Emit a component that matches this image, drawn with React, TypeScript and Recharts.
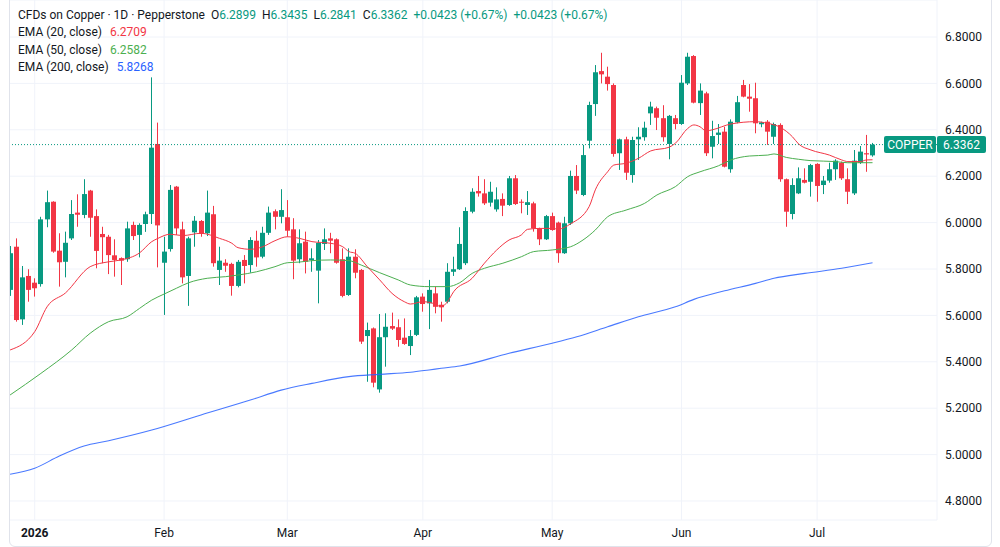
import { ComposedChart, Bar, Line, XAxis, YAxis, CartesianGrid, ReferenceLine } from 'recharts';

const UP = '#089981';
const DOWN = '#F23645';
const EMA20_COLOR = '#F23645';
const EMA50_COLOR = '#4CAF50';
const EMA200_COLOR = '#2962FF';
const TEXT = '#131722';
const GRID = '#f0f3fa';
const FONT = 'Roboto, "Noto Sans", "DejaVu Sans", sans-serif';

const SYMBOL = 'COPPER';

// trading days, one per candle
const dates = [
  '2025-12-26', '2025-12-29', '2025-12-30', '2025-12-31',
  '2026-01-02', '2026-01-05', '2026-01-06', '2026-01-07', '2026-01-08', '2026-01-09',
  '2026-01-12', '2026-01-13', '2026-01-14', '2026-01-15', '2026-01-16',
  '2026-01-19', '2026-01-20', '2026-01-21', '2026-01-22', '2026-01-23',
  '2026-01-26', '2026-01-27', '2026-01-28', '2026-01-29', '2026-01-30',
  '2026-02-02', '2026-02-03', '2026-02-04', '2026-02-05', '2026-02-06',
  '2026-02-09', '2026-02-10', '2026-02-11', '2026-02-12', '2026-02-13',
  '2026-02-16', '2026-02-17', '2026-02-18', '2026-02-19', '2026-02-20',
  '2026-02-23', '2026-02-24', '2026-02-25', '2026-02-26', '2026-02-27',
  '2026-03-02', '2026-03-03', '2026-03-04', '2026-03-05', '2026-03-06',
  '2026-03-09', '2026-03-10', '2026-03-11', '2026-03-12', '2026-03-13',
  '2026-03-16', '2026-03-17', '2026-03-18', '2026-03-19', '2026-03-20',
  '2026-03-23', '2026-03-24', '2026-03-25', '2026-03-26', '2026-03-27',
  '2026-03-30', '2026-03-31',
  '2026-04-01', '2026-04-02',
  '2026-04-06', '2026-04-07', '2026-04-08', '2026-04-09', '2026-04-10',
  '2026-04-13', '2026-04-14', '2026-04-15', '2026-04-16', '2026-04-17',
  '2026-04-20', '2026-04-21', '2026-04-22', '2026-04-23', '2026-04-24',
  '2026-04-27', '2026-04-28', '2026-04-29', '2026-04-30',
  '2026-05-01',
  '2026-05-04', '2026-05-05', '2026-05-06', '2026-05-07', '2026-05-08',
  '2026-05-11', '2026-05-12', '2026-05-13', '2026-05-14', '2026-05-15',
  '2026-05-18', '2026-05-19', '2026-05-20', '2026-05-21', '2026-05-22',
  '2026-05-25', '2026-05-26', '2026-05-27', '2026-05-28', '2026-05-29',
  '2026-06-01', '2026-06-02', '2026-06-03', '2026-06-04', '2026-06-05',
  '2026-06-08', '2026-06-09', '2026-06-10', '2026-06-11', '2026-06-12',
  '2026-06-15', '2026-06-16', '2026-06-17', '2026-06-18', '2026-06-19',
  '2026-06-22', '2026-06-23', '2026-06-24', '2026-06-25', '2026-06-26',
  '2026-06-29', '2026-06-30',
  '2026-07-01', '2026-07-02',
  '2026-07-06', '2026-07-07', '2026-07-08', '2026-07-09', '2026-07-10',
  '2026-07-13', '2026-07-14', '2026-07-15',
];

// [open, high, low, close]
const ohlc: [number, number, number, number][] = [
  [5.710, 5.899, 5.684, 5.868], [5.896, 5.932, 5.573, 5.580], [5.583, 5.813, 5.559, 5.764], [5.770, 5.799, 5.659, 5.710],
  [5.741, 5.760, 5.681, 5.717], [5.735, 6.025, 5.724, 6.014], [6.014, 6.138, 5.980, 6.088], [6.090, 6.092, 5.870, 5.875],
  [5.879, 5.954, 5.724, 5.829], [5.831, 5.961, 5.764, 5.913], [5.932, 6.097, 5.925, 6.037], [6.043, 6.122, 5.982, 6.034],
  [6.033, 6.187, 6.019, 6.123], [6.138, 6.141, 5.939, 6.021], [6.028, 6.057, 5.803, 5.878], [5.951, 5.982, 5.825, 5.937],
  [5.939, 5.947, 5.778, 5.860], [5.859, 5.928, 5.767, 5.839], [5.847, 5.850, 5.731, 5.836], [5.842, 6.004, 5.831, 5.975],
  [5.990, 6.004, 5.925, 5.942], [5.947, 5.997, 5.850, 5.990], [5.994, 6.047, 5.960, 6.036], [6.037, 6.626, 5.994, 6.323],
  [6.339, 6.431, 5.807, 5.988], [5.827, 5.939, 5.602, 5.875], [5.886, 6.162, 5.875, 6.141], [6.155, 6.158, 5.947, 5.975],
  [5.971, 6.004, 5.738, 5.764], [5.770, 5.939, 5.641, 5.932], [5.958, 6.028, 5.896, 6.008], [6.007, 6.011, 5.939, 5.951],
  [5.954, 6.138, 5.942, 6.043], [6.036, 6.072, 5.810, 5.825], [5.796, 5.896, 5.731, 5.836], [5.827, 5.842, 5.788, 5.814],
  [5.822, 5.827, 5.685, 5.727], [5.727, 5.839, 5.721, 5.831], [5.839, 5.860, 5.738, 5.813], [5.817, 5.937, 5.784, 5.925],
  [5.922, 5.965, 5.810, 5.850], [5.853, 5.982, 5.846, 5.956], [5.956, 6.069, 5.947, 6.043], [6.049, 6.057, 5.971, 6.025],
  [6.025, 6.144, 5.997, 6.054], [6.023, 6.097, 5.939, 5.965], [5.971, 6.019, 5.756, 5.836], [5.842, 5.971, 5.825, 5.911],
  [5.918, 5.961, 5.781, 5.831], [5.839, 5.889, 5.788, 5.846], [5.793, 5.925, 5.652, 5.913], [5.908, 5.975, 5.882, 5.928],
  [5.932, 5.956, 5.868, 5.922], [5.928, 5.932, 5.823, 5.827], [5.842, 5.889, 5.678, 5.684], [5.688, 5.889, 5.684, 5.853],
  [5.853, 5.885, 5.760, 5.784], [5.796, 5.800, 5.477, 5.487], [5.511, 5.569, 5.314, 5.537], [5.544, 5.548, 5.290, 5.310],
  [5.281, 5.606, 5.267, 5.506], [5.506, 5.609, 5.379, 5.551], [5.554, 5.612, 5.537, 5.543], [5.549, 5.583, 5.465, 5.494],
  [5.504, 5.587, 5.473, 5.477], [5.468, 5.537, 5.429, 5.511], [5.516, 5.684, 5.511, 5.678], [5.681, 5.695, 5.616, 5.649],
  [5.652, 5.753, 5.541, 5.710], [5.695, 5.724, 5.609, 5.637], [5.646, 5.659, 5.573, 5.635], [5.659, 5.825, 5.652, 5.788],
  [5.788, 5.853, 5.770, 5.799], [5.799, 5.980, 5.796, 5.908], [5.825, 6.066, 5.817, 6.050], [6.047, 6.148, 6.040, 6.133],
  [6.136, 6.201, 6.112, 6.126], [6.126, 6.187, 6.076, 6.083], [6.086, 6.176, 6.069, 6.133], [6.057, 6.152, 6.047, 6.100],
  [6.102, 6.126, 6.028, 6.073], [6.076, 6.201, 6.072, 6.191], [6.191, 6.205, 6.076, 6.080], [6.090, 6.100, 6.040, 6.086],
  [6.076, 6.136, 6.033, 6.088], [6.083, 6.090, 5.961, 5.975], [5.975, 5.978, 5.903, 5.928], [5.928, 6.033, 5.925, 6.028],
  [6.028, 6.043, 5.965, 5.968], [6.000, 6.004, 5.827, 5.868], [5.868, 6.025, 5.865, 5.997], [5.997, 6.224, 5.990, 6.201],
  [6.201, 6.248, 6.123, 6.138], [6.119, 6.335, 6.114, 6.291], [6.353, 6.521, 6.320, 6.507], [6.511, 6.679, 6.460, 6.648],
  [6.653, 6.732, 6.600, 6.639], [6.629, 6.672, 6.569, 6.597], [6.593, 6.600, 6.284, 6.296], [6.299, 6.362, 6.227, 6.359],
  [6.359, 6.370, 6.184, 6.215], [6.205, 6.370, 6.172, 6.356], [6.359, 6.411, 6.270, 6.370], [6.368, 6.435, 6.353, 6.409],
  [6.471, 6.521, 6.421, 6.500], [6.493, 6.500, 6.399, 6.452], [6.450, 6.506, 6.349, 6.368], [6.339, 6.464, 6.273, 6.460],
  [6.450, 6.464, 6.402, 6.425], [6.425, 6.636, 6.421, 6.603], [6.600, 6.732, 6.593, 6.715], [6.718, 6.722, 6.514, 6.517],
  [6.515, 6.600, 6.464, 6.569], [6.557, 6.564, 6.287, 6.299], [6.327, 6.439, 6.277, 6.373], [6.378, 6.425, 6.339, 6.388],
  [6.392, 6.413, 6.238, 6.241], [6.230, 6.445, 6.215, 6.435], [6.432, 6.546, 6.428, 6.519], [6.593, 6.615, 6.540, 6.543],
  [6.543, 6.597, 6.478, 6.534], [6.536, 6.603, 6.385, 6.428], [6.424, 6.435, 6.411, 6.432], [6.435, 6.442, 6.335, 6.392],
  [6.370, 6.431, 6.339, 6.425], [6.421, 6.428, 6.176, 6.187], [6.187, 6.190, 5.982, 6.047], [6.037, 6.191, 6.014, 6.162],
  [6.126, 6.238, 6.123, 6.191], [6.184, 6.234, 6.169, 6.172], [6.176, 6.253, 6.112, 6.248], [6.253, 6.256, 6.090, 6.158],
  [6.162, 6.201, 6.123, 6.181], [6.181, 6.258, 6.172, 6.230], [6.230, 6.273, 6.184, 6.267], [6.258, 6.263, 6.184, 6.191],
  [6.187, 6.234, 6.080, 6.133], [6.126, 6.313, 6.119, 6.267], [6.258, 6.330, 6.253, 6.306], [6.299, 6.378, 6.219, 6.2939],
  [6.2899, 6.3435, 6.2841, 6.3362],
];

// moving averages, [bar index, value]
const ema20Points: [number, number][] = [
  [0, 5.451], [4, 5.53], [6, 5.637], [9, 5.697], [13, 5.81], [16, 5.831], [18, 5.839], [21, 5.869],
  [23, 5.918], [24, 5.932], [26, 5.95], [28, 5.944], [31, 5.954], [34, 5.932], [36, 5.911], [37, 5.892],
  [39, 5.885], [41, 5.896], [43, 5.922], [45, 5.939], [47, 5.932], [49, 5.918], [52, 5.911], [54, 5.896],
  [55, 5.875], [56, 5.868], [58, 5.81], [60, 5.753], [62, 5.695], [64, 5.659], [65, 5.649], [67, 5.659],
  [69, 5.649], [70, 5.637], [71, 5.659], [72, 5.702], [75, 5.76], [77, 5.825], [79, 5.882], [81, 5.925],
  [83, 5.947], [84, 5.971], [86, 5.975], [88, 5.975], [89, 5.972], [91, 5.995], [94, 6.069], [95, 6.141],
  [97, 6.219], [98, 6.248], [100, 6.256], [102, 6.277], [104, 6.309], [107, 6.325], [108, 6.342], [110, 6.406],
  [111, 6.421], [112, 6.413], [113, 6.395], [114, 6.4], [117, 6.425], [121, 6.435], [123, 6.428], [125, 6.411],
  [127, 6.37], [128, 6.339], [130, 6.313], [133, 6.291], [135, 6.27], [136, 6.263], [138, 6.263], [139, 6.27],
  [140, 6.2709],
];
const ema50Points: [number, number][] = [
  [0, 5.257], [5, 5.35], [10, 5.451], [13, 5.523], [16, 5.573], [19, 5.594], [21, 5.63], [23, 5.666],
  [25, 5.692], [27, 5.717], [29, 5.741], [32, 5.76], [35, 5.767], [37, 5.774], [40, 5.788], [43, 5.81],
  [45, 5.827], [47, 5.83], [49, 5.836], [52, 5.839], [55, 5.836], [57, 5.817], [60, 5.784], [63, 5.753],
  [65, 5.731], [68, 5.724], [71, 5.724], [73, 5.741], [75, 5.781], [77, 5.803], [80, 5.825], [83, 5.853],
  [85, 5.875], [88, 5.882], [91, 5.896], [93, 5.925], [95, 5.968], [97, 6.025], [100, 6.054], [103, 6.083],
  [105, 6.119], [108, 6.155], [110, 6.198], [112, 6.219], [115, 6.245], [117, 6.27], [120, 6.287], [123, 6.291],
  [124, 6.296], [126, 6.281], [128, 6.273], [130, 6.267], [134, 6.263], [136, 6.258], [140, 6.2582],
];
const ema200Points: [number, number][] = [
  [0, 4.915], [4, 4.941], [8, 4.994], [12, 5.037], [16, 5.06], [23, 5.106], [31, 5.171], [39, 5.235],
  [44, 5.278], [49, 5.307], [55, 5.336], [60, 5.346], [65, 5.355], [68, 5.365], [70, 5.372], [73, 5.382],
  [81, 5.437], [88, 5.48], [92, 5.508], [97, 5.551], [102, 5.594], [108, 5.637], [111, 5.669], [116, 5.706],
  [121, 5.738], [124, 5.76], [129, 5.781], [135, 5.803], [140, 5.8268],
];

const monthTicks = ['2026-01-02', '2026-02-02', '2026-03-02', '2026-04-01', '2026-05-01', '2026-06-01', '2026-07-01'];
const monthLabels = ['2026', 'Feb', 'Mar', 'Apr', 'May', 'Jun', 'Jul'];
const priceTicks = [4.8, 5.0, 5.2, 5.4, 5.6, 5.8, 6.0, 6.2, 6.4, 6.6, 6.8];

const ema20Map = new Map(ema20Points);
const ema50Map = new Map(ema50Points);
const ema200Map = new Map(ema200Points);

const data = dates.map((date, i) => {
  const [open, high, low, close] = ohlc[i];
  return {
    date,
    open,
    high,
    low,
    close,
    range: [low, high],
    ema20: ema20Map.get(i) ?? null,
    ema50: ema50Map.get(i) ?? null,
    ema200: ema200Map.get(i) ?? null,
  };
});

const last = data[data.length - 1];
const prev = data[data.length - 2];
const change = last.close - prev.close;
const changePct = (change / prev.close) * 100;
const fmt = (v: number) => v.toFixed(4);
const signed = (v: number, d: number) => (v >= 0 ? '+' : '') + v.toFixed(d);

const Candle = (props: any) => {
  const { x, y, width, height, payload } = props;
  if (!payload) return null;
  const { open, close, high, low } = payload;
  const color = close >= open ? UP : DOWN;
  const top = Math.min(y, y + height);
  const span = Math.abs(height);
  const k = span / (high - low);
  const left = Math.round(x + width / 2 - 2.5);
  const wickX = left + 2.5;
  const bodyTop = top + (high - Math.max(open, close)) * k;
  const bodyH = Math.max(1, Math.abs(close - open) * k);
  return (
    <g>
      <line x1={wickX} x2={wickX} y1={top} y2={top + span} stroke={color} strokeWidth={1} />
      <rect x={left} y={bodyTop} width={5} height={bodyH} fill={color} />
    </g>
  );
};

const MonthTick = (props: any) => {
  const { x, y, payload } = props;
  const label = monthLabels[monthTicks.indexOf(payload.value)];
  return (
    <text x={x} y={y} dy="0.71em" textAnchor="middle" fill={TEXT} fontSize={12} fontWeight={label === '2026' ? 700 : 400}>
      {label}
    </text>
  );
};

const PriceTag = (props: any) => {
  const { viewBox } = props;
  if (!viewBox) return null;
  const right = viewBox.x + viewBox.width;
  const cy = viewBox.y;
  return (
    <g>
      <rect x={right - 53} y={cy - 8.5} width={52} height={17} rx={2} fill={UP} />
      <text x={right - 27} y={cy} dy="0.36em" textAnchor="middle" fill="#fff" fontSize={12}>
        {SYMBOL}
      </text>
      <rect x={right} y={cy - 8.5} width={49} height={17} rx={2} fill={UP} />
      <text x={right + 24.5} y={cy} dy="0.36em" textAnchor="middle" fill="#fff" fontSize={12}>
        {fmt(last.close)}
      </text>
    </g>
  );
};

const Legend = () => (
  <div
    style={{
      position: 'absolute',
      left: 18,
      top: 7,
      fontFamily: FONT,
      fontSize: 12,
      lineHeight: '17.4px',
      color: TEXT,
      whiteSpace: 'nowrap',
    }}
  >
    <div>
      <span>CFDs on Copper · 1D · Pepperstone</span>
      <span style={{ marginLeft: 6 }}>O<span style={{ color: UP }}>{fmt(last.open)}</span></span>
      <span style={{ marginLeft: 6 }}>H<span style={{ color: UP }}>{fmt(last.high)}</span></span>
      <span style={{ marginLeft: 6 }}>L<span style={{ color: UP }}>{fmt(last.low)}</span></span>
      <span style={{ marginLeft: 6 }}>C<span style={{ color: UP }}>{fmt(last.close)}</span></span>
      <span style={{ marginLeft: 6, color: UP }}>
        {signed(change, 4)} ({signed(changePct, 2)}%)
      </span>
      <span style={{ marginLeft: 6, color: UP }}>
        {signed(change, 4)} ({signed(changePct, 2)}%)
      </span>
    </div>
    <div>
      EMA (20, close) <span style={{ color: EMA20_COLOR, marginLeft: 5 }}>{fmt(ema20Points[ema20Points.length - 1][1])}</span>
    </div>
    <div>
      EMA (50, close) <span style={{ color: EMA50_COLOR, marginLeft: 5 }}>{fmt(ema50Points[ema50Points.length - 1][1])}</span>
    </div>
    <div>
      EMA (200, close) <span style={{ color: EMA200_COLOR, marginLeft: 5 }}>{fmt(ema200Points[ema200Points.length - 1][1])}</span>
    </div>
  </div>
);

export default function App() {
  return (
    <div style={{ position: 'absolute', left: 0, top: 0, width: 1000, height: 547, background: '#fff', overflow: 'hidden' }}>
      <div
        style={{
          position: 'absolute',
          left: 9,
          top: -6,
          width: 983,
          height: 553,
          boxSizing: 'border-box',
          border: '1px solid #e0e3eb',
          borderRadius: 6,
          overflow: 'hidden',
        }}
      >
        <div style={{ position: 'absolute', left: -3, top: 5 }}>
          <ComposedChart
            width={984}
            height={546}
            data={data}
            margin={{ top: 0, right: 0, bottom: 0, left: 0 }}
            style={{ fontFamily: FONT }}
          >
            <CartesianGrid stroke={GRID} />
            <XAxis
              dataKey="date"
              ticks={monthTicks}
              tick={<MonthTick />}
              tickLine={false}
              axisLine={false}
              height={26}
              padding={{ left: 0, right: 61.4 }}
              interval={0}
            />
            <YAxis
              orientation="right"
              domain={[4.7181, 6.9595]}
              ticks={priceTicks}
              allowDataOverflow
              tickFormatter={fmt}
              tickLine={false}
              axisLine={false}
              width={54}
              tick={{ fill: TEXT, fontSize: 12 }}
            />
            <ReferenceLine y={last.close} stroke={UP} strokeDasharray="1 2" label={<PriceTag />} />
            <Bar dataKey="range" shape={(p: any) => <Candle {...p} />} isAnimationActive={false} />
            <Line dataKey="ema200" type="monotone" stroke={EMA200_COLOR} strokeOpacity={0.85} strokeWidth={1.1} dot={false} activeDot={false} connectNulls isAnimationActive={false} />
            <Line dataKey="ema50" type="monotone" stroke={EMA50_COLOR} strokeWidth={1} dot={false} activeDot={false} connectNulls isAnimationActive={false} />
            <Line dataKey="ema20" type="monotone" stroke={EMA20_COLOR} strokeWidth={1} dot={false} activeDot={false} connectNulls isAnimationActive={false} />
          </ComposedChart>
        </div>
      </div>
      <Legend />
    </div>
  );
}
